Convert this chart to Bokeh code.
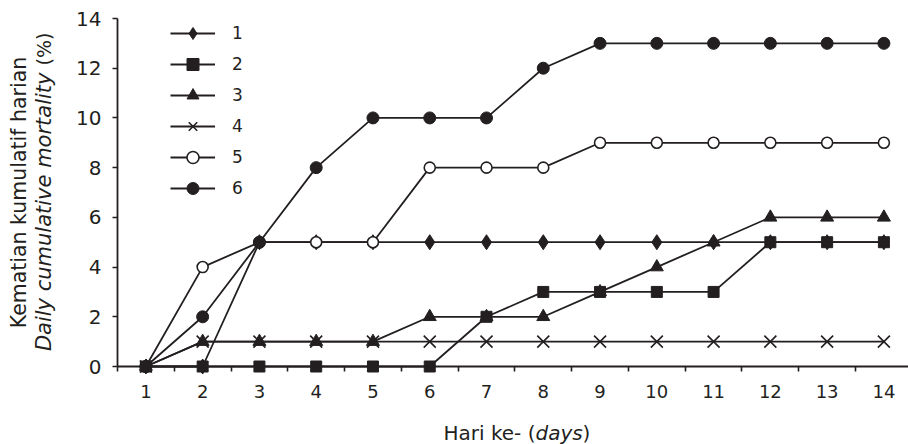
from bokeh.plotting import figure
from bokeh.models import Range1d, FixedTicker, Legend, LegendItem, Label
from bokeh.embed import file_html
from bokeh.resources import INLINE

# ---- data ----
days = [1, 2, 3, 4, 5, 6, 7, 8, 9, 10, 11, 12, 13, 14]
s1 = [0, 0, 5, 5, 5, 5, 5, 5, 5, 5, 5, 5, 5, 5]
s2 = [0, 0, 0, 0, 0, 0, 2, 3, 3, 3, 3, 5, 5, 5]
s3 = [0, 1, 1, 1, 1, 2, 2, 2, 3, 4, 5, 6, 6, 6]
s4 = [0, 1, 1, 1, 1, 1, 1, 1, 1, 1, 1, 1, 1, 1]
s5 = [0, 4, 5, 5, 5, 8, 8, 8, 9, 9, 9, 9, 9, 9]
s6 = [0, 2, 5, 8, 10, 10, 10, 12, 13, 13, 13, 13, 13, 13]
series_names = ["1", "2", "3", "4", "5", "6"]
y_ticks = [0, 2, 4, 6, 8, 10, 12, 14]
x_minor = [0.5 + i for i in range(15)]

FONT = "DejaVu Sans"
INK = "#231f20"
W, H = 908, 444
# frame covers the whole canvas; axes are pinned with fixed_location
AX_X, AX_Y = 117, 366          # canvas px of the axis corner
UX = 56.77                      # px per day
UY = (366 - 18) / 14            # px per % unit
X0 = 0.5 - AX_X / UX
X1 = X0 + W / UX
Y1 = 14 + 18 / UY
Y0 = -(H - AX_Y) / UY

p = figure(width=W, height=H, output_backend="svg", toolbar_location=None,
           x_range=Range1d(X0, X1), y_range=Range1d(Y0, Y1),
           min_border_left=0, min_border_right=0, min_border_top=0,
           min_border_bottom=0)
p.outline_line_color = None
p.xgrid.visible = False
p.ygrid.visible = False
p.background_fill_color = "white"
p.border_fill_color = "white"

def dx(px):
    return X0 + px / UX
def dy(py):
    return Y1 - py / UY

# ---- axes ----
xa = p.xaxis[0]
xa.ticker = FixedTicker(ticks=days, minor_ticks=x_minor)
xa.fixed_location = 0
xa.bounds = (0.5, X1)
xa.major_tick_out = 0
xa.major_tick_in = 0
xa.minor_tick_out = 5
xa.minor_tick_in = 0
xa.minor_tick_line_color = INK
xa.minor_tick_line_width = 1.6
xa.axis_line_width = 1.8
xa.axis_line_color = INK
xa.major_label_text_font = FONT
xa.major_label_text_font_size = "18px"
xa.major_label_text_color = INK
xa.major_label_standoff = 13

ya = p.yaxis[0]
ya.ticker = FixedTicker(ticks=y_ticks)
ya.fixed_location = 0.5
ya.bounds = (0, 14)
ya.major_tick_out = 5
ya.major_tick_in = 0
ya.minor_tick_out = 0
ya.minor_tick_in = 0
ya.major_tick_line_width = 1.6
ya.major_tick_line_color = INK
ya.axis_line_width = 1.8
ya.axis_line_color = INK
ya.major_label_text_font = FONT
ya.major_label_text_font_size = "20px"
ya.major_label_text_color = INK
ya.major_label_standoff = 11

# ---- series ----
styles = [
    dict(marker="diamond", size=15, fill_color=INK, line_width=1),
    dict(marker="square", size=11, fill_color=INK, line_width=1),
    dict(marker="triangle", size=13, fill_color=INK, line_width=1),
    dict(marker="x", size=17, fill_color=INK, line_width=1.6),
    dict(marker="circle", size=11, fill_color="white", line_width=1.6),
    dict(marker="circle", size=12, fill_color=INK, line_width=1),
]
items = []
for name, ys, st in zip(series_names, [s1, s2, s3, s4, s5, s6], styles):
    lr = p.line(days, ys, line_color=INK, line_width=1.8)
    sr = p.scatter(days, ys, marker=st["marker"], size=st["size"],
                   fill_color=st["fill_color"], line_color=INK,
                   line_width=st["line_width"])
    items.append(LegendItem(label=name, renderers=[lr, sr]))

legend = Legend(items=items, location=(170, 241), orientation="vertical",
                glyph_width=45, glyph_height=30, label_height=30, spacing=1,
                label_standoff=17, padding=0, margin=0,
                border_line_color=None, background_fill_alpha=0,
                label_text_font=FONT, label_text_font_size="17px",
                label_text_color=INK)
p.add_layout(legend)

# ---- axis titles (mixed upright / italic) ----
def lab(text, x, y, **kw):
    base = dict(text_font=FONT, text_color=INK, text_font_size="20.5px")
    base.update(kw)
    p.add_layout(Label(text=text, x=x, y=y, x_units="data", y_units="data", **base))

# y title, line 1
lab("Kematian kumulatif harian", dx(18), dy(192), angle=90, angle_units="deg",
    text_align="center", text_baseline="alphabetic")
# y title, line 2
lab("Daily cumulative mortality", dx(43), dy(72), angle=90, angle_units="deg",
    text_align="right", text_baseline="alphabetic", text_font_style="italic",
    text_font_size="21px")
lab("(%)", dx(43), dy(65), angle=90, angle_units="deg",
    text_align="left", text_baseline="alphabetic", text_font_size="19px")

# x title
lab("Hari ke- (", dx(535), dy(432), text_align="right", text_baseline="alphabetic",
    text_font_size="20px")
lab("days", dx(535), dy(432), text_align="left", text_baseline="alphabetic",
    text_font_size="20px", text_font_style="italic")
lab(")", dx(582), dy(432), text_align="left", text_baseline="alphabetic",
    text_font_size="20px")

open("out.html", "w").write(file_html(p, INLINE))
